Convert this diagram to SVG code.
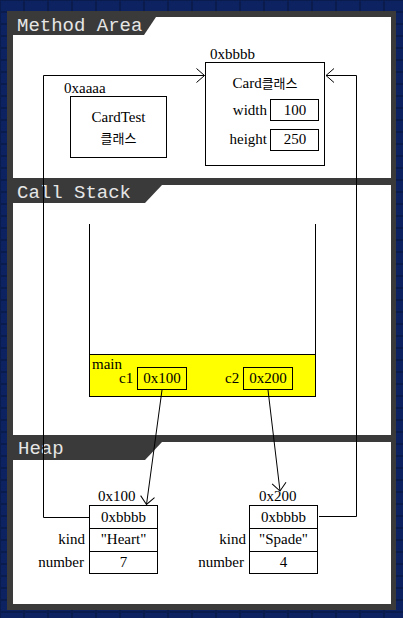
<svg xmlns="http://www.w3.org/2000/svg" width="403" height="618" viewBox="0 0 403 618">
<style>
  .t{font-family:"Liberation Serif","Noto Sans CJK KR",serif;font-size:15px;fill:#000}
  .k{font-family:"Noto Sans CJK KR",sans-serif;font-size:13px}
  .m{text-anchor:middle}
  .e{text-anchor:end}
  .title{font-family:"Liberation Mono","Courier New",monospace;font-size:19px;fill:#e6e6e6}
  .box{fill:#fff;stroke:#000;stroke-width:1}
  .ln{fill:none;stroke:#000;stroke-width:1}
  .tab{fill:#3a3a3a}
</style>
<defs>
  <pattern id="bg" width="24" height="12" patternUnits="userSpaceOnUse">
    <rect width="24" height="12" fill="#0a1c4e"/>
    <rect x="1" y="1" width="22" height="10" fill="#0d2260"/>
  </pattern>
  <marker id="arr" markerWidth="12" markerHeight="16" refX="9" refY="8" orient="auto" markerUnits="userSpaceOnUse">
    <path d="M1,1 L9,8 L1,15" fill="none" stroke="#000" stroke-width="1"/>
  </marker>
</defs>
<rect width="403" height="618" fill="url(#bg)"/>
<rect x="7" y="11" width="389" height="599" fill="#3a3a3a"/>

<g id="method-area">
  <rect x="13" y="17" width="378" height="161" fill="#fff"/>
  <polygon class="tab" points="13,17 156,17 144,35 13,35"/>
  <text class="title" x="17" y="31">Method Area</text>
</g>
<g id="call-stack">
  <rect x="13" y="185" width="378" height="250" fill="#fff"/>
  <polygon class="tab" points="13,185 162,185 145,203 13,203"/>
  <text class="title" x="17" y="198">Call Stack</text>
</g>
<g id="heap">
  <rect x="13" y="442" width="378" height="162" fill="#fff"/>
  <polygon class="tab" points="13,442 162,442 145,460 13,460"/>
  <text class="title" x="18" y="454">Heap</text>
</g>

<g id="cardtest-class">
  <text class="t" x="64" y="93">0xaaaa</text>
  <rect class="box" x="70.5" y="96.5" width="96" height="61"/>
  <text class="t m" x="118.5" y="122">CardTest</text>
  <text class="t m k" x="118.5" y="143">클래스</text>
</g>

<g id="card-class">
  <text class="t" x="210" y="59">0xbbbb</text>
  <rect class="box" x="205.5" y="62.5" width="119" height="103"/>
  <text class="t m" x="265" y="88">Card<tspan class="k">클래스</tspan></text>
  <text class="t e" x="267" y="115">width</text>
  <rect class="box" x="270.5" y="99.5" width="48" height="21"/>
  <text class="t m" x="295" y="115">100</text>
  <text class="t e" x="267" y="144">height</text>
  <rect class="box" x="270.5" y="129.5" width="48" height="21"/>
  <text class="t m" x="295" y="144">250</text>
</g>

<g id="stack">
  <line class="ln" x1="89.5" y1="224" x2="89.5" y2="354"/>
  <line class="ln" x1="315.5" y1="224" x2="315.5" y2="354"/>
</g>

<g id="main-frame">
  <rect x="89.5" y="354.5" width="226" height="42" fill="#ffff00" stroke="#000" stroke-width="1"/>
  <text class="t" x="92" y="369">main</text>
  <text class="t" x="119" y="383">c1</text>
  <rect x="137.5" y="367.5" width="49" height="22" fill="none" stroke="#000"/>
  <text class="t m" x="162" y="383">0x100</text>
  <text class="t" x="225" y="383">c2</text>
  <rect x="243.5" y="367.5" width="49" height="22" fill="none" stroke="#000"/>
  <text class="t m" x="268" y="383">0x200</text>
</g>

<g id="card-obj1">
  <text class="t" x="98" y="501">0x100</text>
  <rect class="box" x="89.5" y="505.5" width="68" height="68"/>
  <line class="ln" x1="89.5" y1="528.5" x2="157.5" y2="528.5"/>
  <line class="ln" x1="89.5" y1="551.5" x2="157.5" y2="551.5"/>
  <text class="t m" x="123.5" y="522">0xbbbb</text>
  <text class="t e" x="85" y="544">kind</text>
  <text class="t m" x="123.5" y="544">"Heart"</text>
  <text class="t e" x="84" y="567">number</text>
  <text class="t m" x="123.5" y="567">7</text>
</g>

<g id="card-obj2">
  <text class="t" x="259" y="501">0x200</text>
  <rect class="box" x="249.5" y="505.5" width="68" height="68"/>
  <line class="ln" x1="249.5" y1="528.5" x2="317.5" y2="528.5"/>
  <line class="ln" x1="249.5" y1="551.5" x2="317.5" y2="551.5"/>
  <text class="t m" x="283.5" y="522">0xbbbb</text>
  <text class="t e" x="246" y="544">kind</text>
  <text class="t m" x="283.5" y="544">"Spade"</text>
  <text class="t e" x="244" y="567">number</text>
  <text class="t m" x="283.5" y="567">4</text>
</g>

<g id="connectors">
  <path class="ln" d="M89,517.5 H43.5 V75.5 H204.5" marker-end="url(#arr)"/>
  <path class="ln" d="M319,516.5 H356.5 V75.5 H326" marker-end="url(#arr)"/>
  <line class="ln" x1="162" y1="390" x2="146.5" y2="504.5" marker-end="url(#arr)"/>
  <line class="ln" x1="268" y1="390" x2="280" y2="491" marker-end="url(#arr)"/>
</g>
</svg>
